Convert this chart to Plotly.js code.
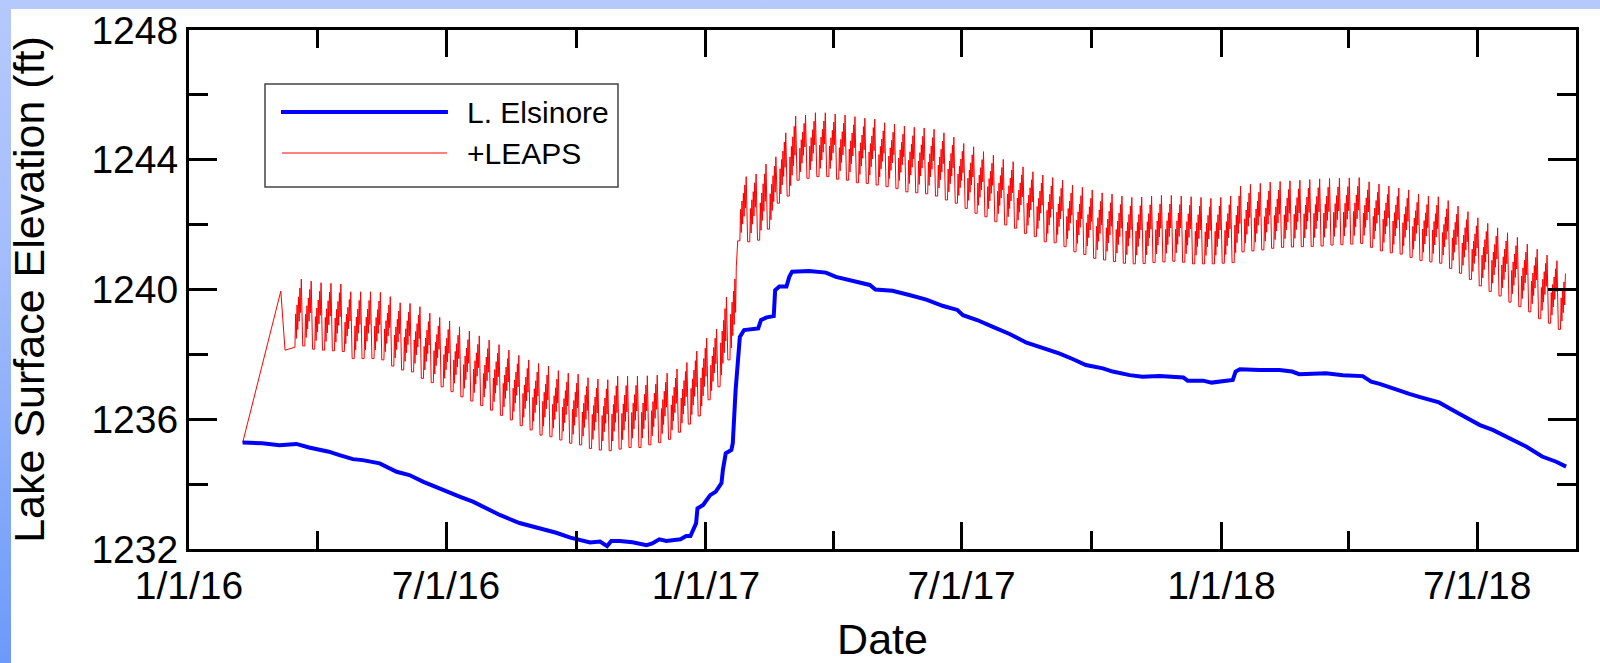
<!DOCTYPE html>
<html>
<head>
<meta charset="utf-8">
<script src="https://cdn.plot.ly/plotly-3.0.1.min.js"></script>
<style>
  html, body { margin: 0; padding: 0; width: 1600px; height: 663px; overflow: hidden;
    background: linear-gradient(to bottom, #b5c9fb 0%, #a3bcfb 40%, #6c9afa 100%); }
  #white { position: absolute; left: 11px; top: 9px; width: 1589px; height: 654px; background: #ffffff; }
  #chart { position: absolute; left: 0; top: 0; width: 1600px; height: 663px; }
</style>
</head>
<body>
<div id="white"></div>
<div id="chart"></div>
<script>
// ---------------- DATA ----------------
// L. Elsinore lake surface elevation (ft)
const elsinoreDates = [
  '2016-02-08','2016-02-22','2016-03-05','2016-03-17','2016-03-26','2016-04-09','2016-04-16','2016-04-26',
  '2016-05-03','2016-05-15','2016-05-27','2016-06-05','2016-06-15','2016-06-29','2016-07-11','2016-07-20',
  '2016-07-30','2016-08-08','2016-08-22','2016-09-17','2016-09-27','2016-10-11','2016-10-18','2016-10-23',
  '2016-10-26','2016-11-01','2016-11-10','2016-11-20','2016-11-24','2016-11-29','2016-12-04','2016-12-14',
  '2016-12-18','2016-12-21','2016-12-25','2016-12-26','2016-12-30','2017-01-04','2017-01-08','2017-01-12',
  '2017-01-13','2017-01-14','2017-01-15','2017-01-19','2017-01-20','2017-01-22','2017-01-25','2017-01-28',
  '2017-02-07','2017-02-09','2017-02-13','2017-02-18','2017-02-19','2017-02-22','2017-02-27','2017-03-01',
  '2017-03-03','2017-03-15','2017-03-27','2017-04-03','2017-04-15','2017-04-27','2017-05-01','2017-05-13',
  '2017-05-25','2017-06-06','2017-06-18','2017-06-28','2017-07-02','2017-07-12','2017-07-24','2017-08-04',
  '2017-08-16','2017-08-28','2017-09-08','2017-09-18','2017-09-27','2017-10-09','2017-10-16','2017-10-28',
  '2017-11-06','2017-11-18','2017-12-05','2017-12-08','2017-12-19','2017-12-25','2018-01-09','2018-01-11',
  '2018-01-14','2018-01-28','2018-02-11','2018-02-20','2018-02-25','2018-03-16','2018-03-28','2018-04-11',
  '2018-04-17','2018-04-23','2018-05-02','2018-05-14','2018-05-21','2018-06-04','2018-06-18','2018-07-03',
  '2018-07-12','2018-07-24','2018-08-05','2018-08-16','2018-08-26','2018-09-02'
];
const elsinoreElev = [
  1235.28,1235.26,1235.20,1235.24,1235.13,1235.00,1234.90,1234.77,
  1234.74,1234.64,1234.38,1234.28,1234.07,1233.84,1233.61,1233.46,
  1233.25,1233.05,1232.80,1232.50,1232.35,1232.20,1232.23,1232.09,
  1232.25,1232.25,1232.21,1232.12,1232.17,1232.30,1232.25,1232.30,
  1232.40,1232.40,1232.79,1233.25,1233.36,1233.66,1233.77,1234.03,
  1234.44,1234.74,1234.95,1235.05,1235.26,1236.90,1238.54,1238.75,
  1238.80,1239.06,1239.14,1239.18,1239.98,1240.09,1240.09,1240.39,
  1240.55,1240.57,1240.52,1240.39,1240.27,1240.14,1240.00,1239.96,
  1239.83,1239.69,1239.49,1239.37,1239.21,1239.06,1238.83,1238.63,
  1238.36,1238.19,1238.03,1237.85,1237.67,1237.57,1237.47,1237.36,
  1237.31,1237.33,1237.29,1237.19,1237.19,1237.13,1237.21,1237.47,
  1237.54,1237.52,1237.52,1237.47,1237.39,1237.42,1237.36,1237.33,
  1237.16,1237.09,1236.95,1236.78,1236.69,1236.52,1236.18,1235.82,
  1235.67,1235.41,1235.15,1234.85,1234.69,1234.54
];

// +LEAPS: lead-in before weekly operation
const leapsStartDates = ['2016-02-08', '2016-03-06', '2016-03-09'];
const leapsStartValues = [1235.28, 1239.95, 1238.13];

// +LEAPS weekly operation: first week starts 2016-03-16
const leapsFirstWeek = '2016-03-16';
// weekly low (start of week) and weekly high (ft)
const leapsTrough = [
  1238.22,1238.26,1238.16,1238.13,1238.11,1238.09,1237.87,1237.87,1237.87,1237.83,
  1237.64,1237.52,1237.46,1237.26,1237.13,1237.00,1236.85,1236.69,1236.56,1236.42,
  1236.28,1236.12,1235.98,1235.80,1235.67,1235.51,1235.46,1235.36,1235.26,1235.21,
  1235.10,1235.05,1235.03,1235.08,1235.13,1235.13,1235.21,1235.28,1235.38,1235.60,
  1235.85,1236.10,1236.60,1237.00,1237.83,1241.50,1241.47,1241.52,1241.86,1242.66,
  1242.88,1243.37,1243.43,1243.48,1243.48,1243.40,1243.37,1243.29,1243.27,1243.22,
  1243.17,1243.11,1243.01,1242.98,1242.95,1242.88,1242.76,1242.66,1242.50,1242.35,
  1242.24,1242.09,1241.99,1241.89,1241.73,1241.63,1241.47,1241.44,1241.32,1241.16,
  1241.08,1240.96,1240.91,1240.86,1240.81,1240.79,1240.80,1240.83,1240.85,1240.87,
  1240.84,1240.79,1240.79,1240.79,1240.81,1240.83,1241.16,1241.19,1241.22,1241.27,
  1241.30,1241.31,1241.32,1241.33,1241.34,1241.37,1241.38,1241.40,1241.42,1241.30,
  1241.19,1241.13,1241.09,1240.99,1240.89,1240.85,1240.81,1240.65,1240.50,1240.31,
  1240.11,1239.94,1239.80,1239.61,1239.47,1239.31,1239.10,1238.96,1238.77
];
const leapsPeak = [
  1240.32,1240.26,1240.21,1240.19,1240.17,1239.93,1239.93,1239.93,1239.91,1239.78,
  1239.59,1239.57,1239.47,1239.27,1239.14,1239.03,1238.85,1238.72,1238.57,1238.44,
  1238.30,1238.13,1237.97,1237.83,1237.72,1237.64,1237.50,1237.42,1237.39,1237.28,
  1237.24,1237.22,1237.33,1237.33,1237.33,1237.34,1237.36,1237.42,1237.55,1237.75,
  1238.10,1238.50,1238.78,1239.77,1240.70,1243.48,1243.56,1243.87,1244.09,1244.83,
  1245.35,1245.38,1245.45,1245.45,1245.41,1245.38,1245.33,1245.28,1245.25,1245.14,
  1245.10,1245.04,1245.00,1244.98,1244.94,1244.83,1244.70,1244.50,1244.40,1244.25,
  1244.14,1244.01,1243.94,1243.78,1243.63,1243.53,1243.45,1243.37,1243.22,1243.15,
  1243.07,1242.98,1242.94,1242.88,1242.84,1242.85,1242.88,1242.90,1242.90,1242.88,
  1242.86,1242.84,1242.81,1242.84,1242.88,1243.19,1243.24,1243.27,1243.31,1243.33,
  1243.35,1243.37,1243.39,1243.41,1243.42,1243.43,1243.44,1243.45,1243.32,1243.25,
  1243.19,1243.13,1243.07,1242.94,1242.88,1242.86,1242.74,1242.57,1242.40,1242.21,
  1242.04,1241.90,1241.75,1241.61,1241.40,1241.24,1241.06,1240.89,1240.75
];
// within-week pattern read from the teeth: day offsets and fraction of the week's rise
const weekOffsets = [0, 0.5, 1, 1.5, 2, 2.5, 3, 3.5, 4, 4.5];
const weekShape   = [0, 0.49, 0.13, 0.62, 0.26, 0.74, 0.38, 0.87, 0.51, 1.0];
const weekDropDay = 5.5;        // weekend drawdown reaches next week's low
const leapsLastWeekDays = 3.5;  // record ends mid-week

// axis labels
const xTitle = 'Date';
const yTitle = 'Lake Surface Elevation (ft)';
const seriesNames = ['L. Elsinore', '+LEAPS'];

// ---------------- BUILD +LEAPS SERIES ----------------
const DAY = 86400000;
function fmt(ms) { return new Date(ms).toISOString().slice(0, 16).replace('T', ' '); }
const w0 = Date.parse(leapsFirstWeek + 'T00:00:00Z');
const leapsX = leapsStartDates.slice();
const leapsY = leapsStartValues.slice();
for (let i = 0; i < leapsPeak.length; i++) {
  const T = leapsTrough[i], A = leapsPeak[i] - T;
  const start = w0 + 7 * i * DAY;
  const last = (i === leapsPeak.length - 1);
  for (let k = 0; k < weekOffsets.length; k++) {
    if (last && weekOffsets[k] > leapsLastWeekDays) break;
    leapsX.push(fmt(start + weekOffsets[k] * DAY));
    leapsY.push(T + weekShape[k] * A);
  }
  if (!last) {
    leapsX.push(fmt(start + weekDropDay * DAY));
    leapsY.push(leapsTrough[i + 1]);
  }
}

// ---------------- PLOT ----------------
const FONT = 'Arial, "Liberation Sans", sans-serif';
const traces = [
  { x: leapsX, y: leapsY, name: seriesNames[1], type: 'scatter', mode: 'lines',
    line: { color: '#ff0000', width: 1 }, showlegend: false, hoverinfo: 'skip' },
  { x: elsinoreDates, y: elsinoreElev, name: seriesNames[0], type: 'scatter', mode: 'lines',
    line: { color: '#0000ff', width: 4 }, showlegend: false }
];

const axisCommon = {
  showline: true, linecolor: '#000', linewidth: 3, mirror: 'ticks',
  ticks: 'inside', tickcolor: '#000', tickwidth: 3,
  showgrid: false, zeroline: false, automargin: false,
  ticklabeloverflow: 'allow',
  tickfont: { family: FONT, size: 39, color: '#000' }
};

const layout = {
  width: 1600, height: 663,
  margin: { l: 189, r: 24, t: 30, b: 114 },
  paper_bgcolor: 'rgba(0,0,0,0)', plot_bgcolor: '#ffffff',
  font: { family: FONT, color: '#000' },
  showlegend: false,
  xaxis: Object.assign({}, axisCommon, {
    type: 'date', range: ['2016-01-01', '2018-09-09'],
    tick0: '2016-01-01', dtick: 'M6', tickformat: '%-m/%-d/%y', ticklen: 27,
    minor: { tick0: '2016-01-01', dtick: 'M3', ticks: 'inside', ticklen: 18, tickwidth: 3, tickcolor: '#000', showgrid: false },
    title: { text: xTitle, font: { family: FONT, size: 43, color: '#000' }, standoff: 22 }
  }),
  yaxis: Object.assign({}, axisCommon, {
    range: [1232, 1248], tick0: 1232, dtick: 4, ticklen: 28,
    minor: { dtick: 2, ticks: 'inside', ticklen: 19, tickwidth: 3, tickcolor: '#000', showgrid: false },
    title: { text: yTitle, font: { family: FONT, size: 43, color: '#000' }, standoff: 34 }
  }),
  shapes: [
    { type: 'rect', xref: 'paper', yref: 'paper', x0: 0.0548, x1: 0.3093, y0: 0.6975, y1: 0.8960,
      line: { color: '#444', width: 1.5 }, fillcolor: 'rgba(255,255,255,0)' },
    { type: 'line', xref: 'paper', yref: 'paper', x0: 0.0663, x1: 0.1867, y0: 0.842, y1: 0.842,
      line: { color: '#0000ff', width: 4 } },
    { type: 'line', xref: 'paper', yref: 'paper', x0: 0.0670, x1: 0.1860, y0: 0.763, y1: 0.763,
      line: { color: '#ff0000', width: 1 } }
  ],
  annotations: [
    { xref: 'paper', yref: 'paper', x: 0.199, y: 0.842, xanchor: 'left', yanchor: 'middle',
      text: seriesNames[0], showarrow: false, font: { family: FONT, size: 30, color: '#000' } },
    { xref: 'paper', yref: 'paper', x: 0.199, y: 0.763, xanchor: 'left', yanchor: 'middle',
      text: seriesNames[1], showarrow: false, font: { family: FONT, size: 30, color: '#000' } }
  ]
};

Plotly.newPlot('chart', traces, layout, { staticPlot: true, displayModeBar: false });
</script>
</body>
</html>
